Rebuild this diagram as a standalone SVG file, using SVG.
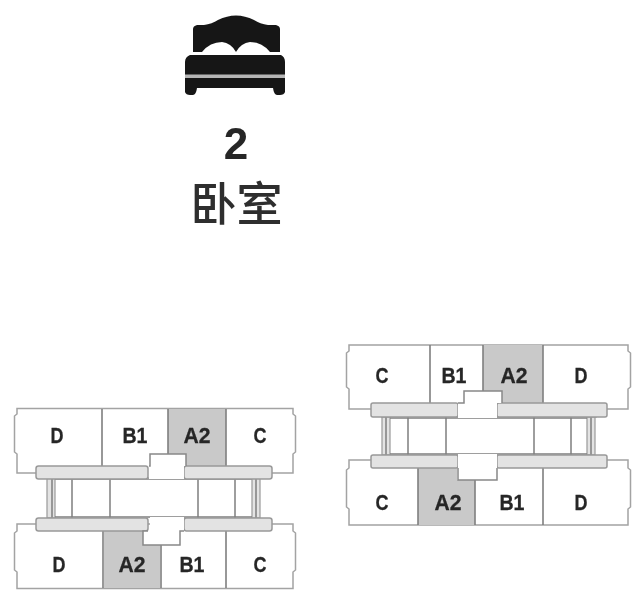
<svg xmlns="http://www.w3.org/2000/svg" width="637" height="599" viewBox="0 0 637 599">
<defs><filter id="soft" x="-5%" y="-5%" width="110%" height="110%"><feGaussianBlur stdDeviation="0.7"/></filter></defs>
<style>
.o{fill:#fff;stroke:#a3a3a3;stroke-width:1.5}
.w{fill:#fff;stroke:none}
.a{fill:#c9c9c9;stroke:none}
.d{fill:none;stroke:#7f7f7f;stroke-width:1.6}
.b{fill:#e3e3e3;stroke:#999;stroke-width:1.5}
.c{fill:#e3e3e3;stroke:#999;stroke-width:1.2}
.m{fill:none;stroke:#7f7f7f;stroke-width:1.5}
.n{fill:#fff;stroke:none}
.e{fill:none;stroke:#888;stroke-width:1.5}
.l{font-family:"Liberation Sans",Arial,sans-serif;font-weight:700;font-size:22.500px;fill:#262626;text-anchor:middle;stroke:#262626;stroke-width:.3}
</style>
<rect width="637" height="599" fill="#fff"/>
<g filter="url(#soft)">
<g id="icon">
<path fill="#161616" d="M193 52V29Q193 26 197 25L204 25Q212 24 218 20Q236 11 254 20Q260 24 268 25L276 25Q280 26 280 29V52L270 52Q262 42 250 42Q241 43 236 52Q231 43 222 42Q210 42 202 52Z"/>
<path fill="#161616" d="M190 55H281Q285 57 285 62V80H285V92Q284 95 280 95H277Q274 95 273 88H197Q196 95 193 95H190Q186 95 185 92V62Q185 57 190 55Z"/>
<rect x="185" y="74.500" width="100" height="3.500" fill="#b5b5b5"/>
</g>
<g id="title">
<text x="236" y="159" font-family="'Liberation Sans',Arial,sans-serif" font-weight="700" font-size="44" fill="#262626" text-anchor="middle">2</text>
<text x="236.500" y="220" font-family="'Noto Sans CJK SC','Liberation Sans',sans-serif" font-weight="500" font-size="46" fill="#2e2e2e" text-anchor="middle">卧室</text>
</g>
<g id="plan-left">
<g id="left-floor-top">
<path class="o" d="M17 408.500H293V414L295.500 416V452L293 454V473H262V478H47V473H17V454L14.500 452V416L17 414Z"/>
<path class="a" d="M168 409H226V466H186V454H168Z"/>
<path class="d" d="M102 409V466M168 409V454M226 409V466"/>
</g>
<g id="left-floor-bottom">
<path class="o" d="M17 524H293V531L295.500 533V570L293 572V588.500H17V572L14.500 570V533L17 531Z"/>
<path class="a" d="M104 531H143V545H160V588H104Z"/>
<path class="d" d="M103 531V588M161 545V588M226 531V588"/>
</g>
<g id="left-core">
<rect class="w" x="48" y="478" width="212" height="40"/>
<rect class="c" x="47" y="478" width="8" height="40"/>
<rect class="c" x="252" y="478" width="8" height="40"/>
<path class="m" d="M72 478V518M110 478V518M198 478V518M235 478V518M55 479H252M55 517H252M52 478V518M256 478V518"/>
<rect class="b" x="36" y="466" width="112" height="13" rx="2.500"/>
<rect class="b" x="184" y="466" width="88" height="13" rx="2.500"/>
<rect class="b" x="36" y="518" width="112" height="13" rx="2.500"/>
<rect class="b" x="184" y="518" width="88" height="13" rx="2.500"/>
<path class="n" d="M149 479V466H150V454H186V466H184V479Z"/>
<path class="e" d="M149 466H150V454H186V466"/>
<path class="n" d="M150 517V531H143V545H180V531H184V517Z"/>
<path class="e" d="M148 531H143V545H180V531H184"/>
</g>
<g id="left-labels">
<text class="l" x="57" y="442.500" textLength="13" lengthAdjust="spacingAndGlyphs">D</text><text class="l" x="135" y="442.500" textLength="25" lengthAdjust="spacingAndGlyphs">B1</text><text class="l" x="197" y="442.500" textLength="27" lengthAdjust="spacingAndGlyphs">A2</text><text class="l" x="260" y="442.500" textLength="13" lengthAdjust="spacingAndGlyphs">C</text>
<text class="l" x="59" y="572" textLength="13" lengthAdjust="spacingAndGlyphs">D</text><text class="l" x="132" y="572" textLength="27" lengthAdjust="spacingAndGlyphs">A2</text><text class="l" x="192" y="572" textLength="25" lengthAdjust="spacingAndGlyphs">B1</text><text class="l" x="260" y="572" textLength="13" lengthAdjust="spacingAndGlyphs">C</text>
</g>
</g>
<g id="plan-right">
<g id="right-floor-top">
<path class="o" d="M349 345H628V351L630.500 353V387L628 389V409H596V417H382V409H349V389L346.500 387V353L349 351Z"/>
<path class="a" d="M483 345H543V403H502V391H483Z"/>
<path class="d" d="M430 345V403M483 345V391M543 345V403"/>
</g>
<g id="right-floor-bottom">
<path class="o" d="M349 460H628V468L630.500 470V507L628 509V525H349V509L346.500 507V470L349 468Z"/>
<path class="a" d="M418 468H457V480H475V525H418Z"/>
<path class="d" d="M418 468V525M475 480V525M543 468V525"/>
</g>
<g id="right-core">
<rect class="w" x="383" y="417" width="212" height="39"/>
<rect class="c" x="382" y="417" width="8" height="38"/>
<rect class="c" x="587" y="417" width="8" height="38"/>
<path class="m" d="M408 417V455M446 417V455M534 417V455M571 417V455M390 418H587M390 454H587M386 417V455M591 417V455"/>
<rect class="b" x="371" y="403" width="87" height="14" rx="2"/>
<rect class="b" x="497" y="403" width="110" height="14" rx="2"/>
<rect class="b" x="371" y="455" width="87" height="13" rx="2"/>
<rect class="b" x="497" y="455" width="110" height="13" rx="2"/>
<path class="n" d="M458 418V403H464V391H502V403H497V418Z"/>
<path class="e" d="M458 403H464V391H502V403"/>
<path class="n" d="M458 454V480H497V454Z"/>
<path class="e" d="M458 468V480H497V468"/>
</g>
<g id="right-labels">
<text class="l" x="382" y="383" textLength="13" lengthAdjust="spacingAndGlyphs">C</text><text class="l" x="454" y="383" textLength="25" lengthAdjust="spacingAndGlyphs">B1</text><text class="l" x="514" y="383" textLength="27" lengthAdjust="spacingAndGlyphs">A2</text><text class="l" x="581" y="383" textLength="13" lengthAdjust="spacingAndGlyphs">D</text>
<text class="l" x="382" y="509.500" textLength="13" lengthAdjust="spacingAndGlyphs">C</text><text class="l" x="448" y="509.500" textLength="27" lengthAdjust="spacingAndGlyphs">A2</text><text class="l" x="512" y="509.500" textLength="25" lengthAdjust="spacingAndGlyphs">B1</text><text class="l" x="581" y="509.500" textLength="13" lengthAdjust="spacingAndGlyphs">D</text>
</g>
</g>
</g>
</svg>
